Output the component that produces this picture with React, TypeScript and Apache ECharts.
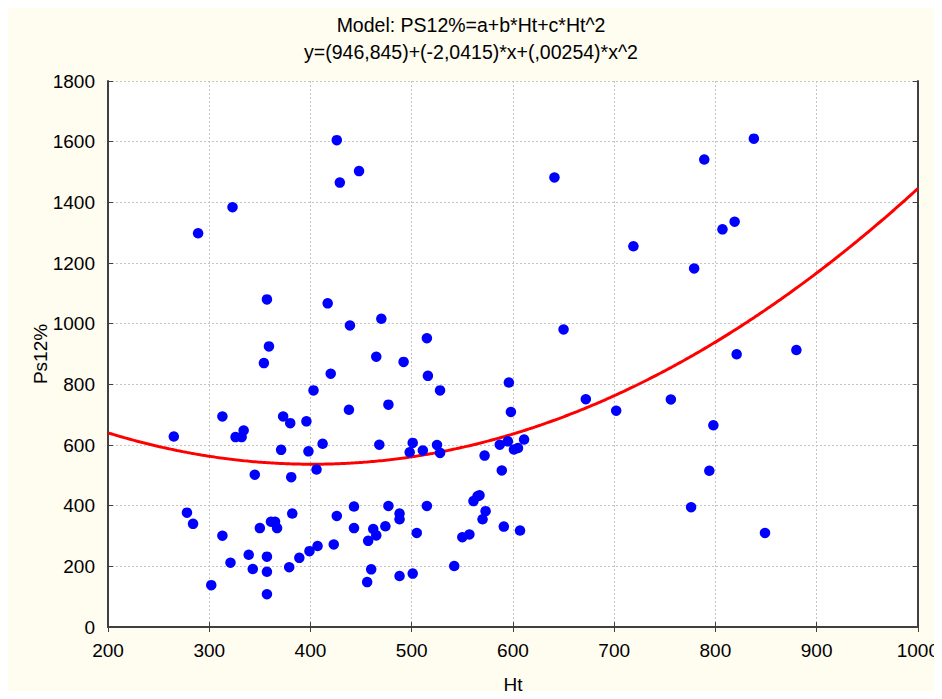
import React, { useEffect, useRef } from "react";
import * as echarts from "echarts";

// Ht values of the observations
const htValues: number[] = [
  265, 278, 284, 289, 302, 313, 313, 321, 323, 326, 332, 334, 339, 343, 345, 350,
  354, 357, 359, 357, 357, 357, 361, 365, 367, 371, 373, 379, 380, 381, 382, 389,
  396, 398, 399, 403, 406, 407, 412, 417, 420, 423, 426, 426, 429, 438, 439, 443,
  443, 448, 456, 457, 460, 462, 465, 465, 468, 470, 474, 477, 477, 488, 488, 488,
  492, 498, 501, 501, 505, 511, 515, 515, 516, 525, 528, 528, 542, 550, 557, 561,
  565, 567, 570, 573, 572, 587, 589, 591, 595, 596, 598, 601, 605, 607, 611, 641,
  650, 672, 702, 719, 756, 776, 779, 789, 794, 798, 807, 819, 821, 838, 849, 880,
];

// Ps12% values, paired by index with htValues
const ps12Values: number[] = [
  628, 377, 340, 1298, 138, 694, 301, 212, 1384, 626, 626, 648, 238, 191, 502, 326,
  870, 1080, 925, 232, 182, 108, 347, 347, 326, 584, 694, 197, 672, 494, 374, 228,
  678, 579, 250, 780, 519, 267, 604, 1067, 835, 272, 366, 1605, 1465, 716, 994, 397,
  326, 1503, 148, 284, 190, 323, 302, 891, 601, 1016, 332, 733, 399, 374, 355, 168,
  874, 576, 607, 176, 310, 582, 952, 399, 828, 600, 574, 780, 201, 296, 305, 415,
  431, 434, 355, 382, 565, 601, 516, 331, 612, 806, 709, 585, 590, 318, 618, 1482,
  981, 751, 713, 1255, 750, 395, 1182, 1541, 515, 665, 1311, 1336, 899, 1610, 310, 913,
];

// Quadratic model PS12% = a + b*Ht + c*Ht^2
const coefA = 946.845;
const coefB = -2.0415;
const coefC = 0.00254;

const xTicks = [200, 300, 400, 500, 600, 700, 800, 900, 1000];
const yTicks = [0, 200, 400, 600, 800, 1000, 1200, 1400, 1600, 1800];

const titleLine1 = "Model: PS12%=a+b*Ht+c*Ht^2";
const titleLine2 = "y=(946,845)+(-2,0415)*x+(,00254)*x^2";

const FONT = "'Liberation Sans', Arial, sans-serif";

export default function App() {
  const ref = useRef<HTMLDivElement>(null);

  useEffect(() => {
    if (!ref.current) return;
    const chart = echarts.init(ref.current, undefined, { renderer: "svg" });

    const points = htValues.map((h, i) => [h, ps12Values[i]]);
    const xMin = xTicks[0];
    const xMax = xTicks[xTicks.length - 1];
    const fit: number[][] = [];
    for (let h = xMin; h <= xMax; h += 2) {
      fit.push([h, coefA + coefB * h + coefC * h * h]);
    }

    const frameLine = { show: true, lineStyle: { color: "#404040", width: 2 } };
    const innerTick = { show: true, inside: true, length: 5, lineStyle: { color: "#404040", width: 1 } };
    const dottedGrid = { show: true, lineStyle: { color: "#c4c4c4", type: [2, 2] as any, width: 1 } };
    const plain = (v: number) => String(v);

    chart.setOption({
      animation: false,
      backgroundColor: "#fffcf0",
      textStyle: { fontFamily: FONT },
      title: [
        {
          text: titleLine1,
          left: "center",
          top: 10,
          textStyle: { fontFamily: FONT, fontSize: 19.5, fontWeight: "normal", color: "#000" },
        },
        {
          text: titleLine2,
          left: "center",
          top: 37,
          textStyle: { fontFamily: FONT, fontSize: 19.5, fontWeight: "normal", color: "#000" },
        },
      ],
      grid: { left: 108, right: 24, top: 81, bottom: 71, show: true, backgroundColor: "#ffffff", borderWidth: 0 },
      xAxis: [
        {
          type: "value",
          min: xMin,
          max: xMax,
          interval: 100,
          axisLine: frameLine,
          axisTick: innerTick,
          splitLine: dottedGrid,
          axisLabel: { fontFamily: FONT, fontSize: 19, color: "#000", margin: 14, formatter: plain },
          name: "Ht",
          nameLocation: "middle",
          nameGap: 48,
          nameMoveOverlap: false,
          nameTextStyle: { fontFamily: FONT, fontSize: 19, color: "#000", verticalAlign: "top" },
        },
        {
          type: "value",
          position: "top",
          min: xMin,
          max: xMax,
          interval: 100,
          axisLine: frameLine,
          axisTick: innerTick,
          splitLine: { show: false },
          axisLabel: { show: false },
        },
      ],
      yAxis: [
        {
          type: "value",
          min: yTicks[0],
          max: yTicks[yTicks.length - 1],
          interval: 200,
          axisLine: frameLine,
          axisTick: innerTick,
          splitLine: dottedGrid,
          axisLabel: { fontFamily: FONT, fontSize: 19, color: "#000", margin: 13, formatter: plain },
          name: "Ps12%",
          nameLocation: "middle",
          nameGap: 58,
          nameMoveOverlap: false,
          nameRotate: 90,
          nameTextStyle: { fontFamily: FONT, fontSize: 19, color: "#000" },
        },
        {
          type: "value",
          position: "right",
          min: yTicks[0],
          max: yTicks[yTicks.length - 1],
          interval: 200,
          axisLine: frameLine,
          axisTick: innerTick,
          splitLine: { show: false },
          axisLabel: { show: false },
        },
      ],
      series: [
        {
          type: "line",
          data: fit,
          showSymbol: false,
          symbol: "none",
          lineStyle: { color: "#ff0000", width: 3 },
          z: 2,
        },
        {
          type: "scatter",
          data: points,
          symbol: "circle",
          symbolSize: 10.5,
          itemStyle: { color: "#0000ff", opacity: 1 },
          z: 3,
        },
      ],
    });

    return () => chart.dispose();
  }, []);

  return <div ref={ref} style={{ width: 942, height: 699, margin: -8 }} />;
}
